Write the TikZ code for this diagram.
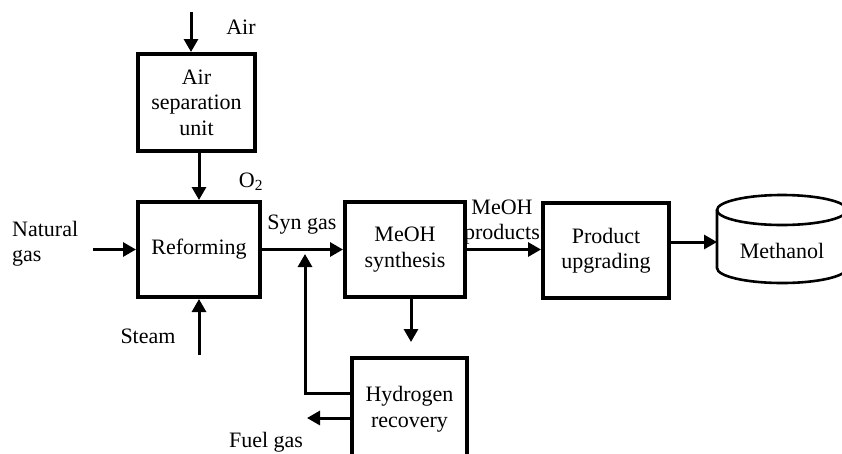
\documentclass[tikz,border=0pt]{standalone}
\usepackage{fontspec}
\setmainfont{Liberation Serif}
\usetikzlibrary{arrows.meta}
\begin{document}
\begin{tikzpicture}[x=1pt,y=-1pt,
  every node/.style={font=\fontsize{22}{25.5}\selectfont, inner sep=0pt},
  unit/.style={draw, line width=4pt, align=center},
  flow/.style={line width=3pt, -{Triangle[length=13pt,width=14pt]}},
  tankline/.style={line width=2.6pt}]
\useasboundingbox (0,0) rectangle (842,453);
\clip (0,0) rectangle (842,453);

% process units
\node[unit, minimum width=117pt, minimum height=97pt] (asu) at (196.5,102.5) {Air\\separation\\unit};
\node[unit, minimum width=122pt, minimum height=95pt] (reform) at (199,249.5) {Reforming};
\node[unit, minimum width=120pt, minimum height=95pt] (synth) at (405,249.5) {MeOH\\synthesis};
\node[unit, minimum width=126pt, minimum height=95pt] (upgrade) at (606,250.5) {Product\\upgrading};
\node[unit, minimum width=115pt, minimum height=102pt] (hrec) at (409.5,409) {Hydrogen\\recovery};

% product tank
\node[minimum width=130pt, minimum height=88pt] (tank) at (782,251) {Methanol};
\draw[tankline] (717,210) -- (717,268) arc[start angle=180, end angle=0, x radius=65, y radius=15] -- (847,210);
\draw[tankline] (782,210) ellipse [x radius=65, y radius=15];

% stream labels
\node (airlbl) at (241,27) {Air};
\node (o2lbl) at (251,182) {O\textsubscript{2}};
\node[align=left, anchor=west] (nglbl) at (12,243.5) {Natural\\gas};
\node (stlbl) at (148,336) {Steam};
\node (sglbl) at (302,225) {Syn gas};
\node[align=center] (mplbl) at (502,222) {MeOH\\products};
\node (fglbl) at (266,442) {Fuel gas};

% free stream ends
\coordinate (airin) at (191,12);
\coordinate (ngin) at (93,249.5);
\coordinate (stin) at (199,355);
\coordinate (hdown) at (411,342);
\coordinate (rcorner) at (305,393);
\coordinate (rtip) at (305,254);
\coordinate (fuelout) at (307,418);
\coordinate (tankin) at (717,242);

% streams
\draw[flow] (airin) -- (airin |- asu.north);
\draw[flow] (reform.north |- asu.south) -- (reform.north);
\draw[flow] (ngin) -- (reform.west);
\draw[flow] (stin) -- (reform.south);
\draw[flow] (reform.east) -- (synth.west);
\draw[flow] (synth.south -| hdown) -- (hdown);
\draw[flow] (hrec.west |- rcorner) -- (rcorner) -- (rtip);
\draw[flow] (hrec.west |- fuelout) -- (fuelout);
\draw[flow] (synth.east) -- (synth.east -| upgrade.west);
\draw[flow] (upgrade.east |- tankin) -- (tankin);
\end{tikzpicture}
\end{document}
